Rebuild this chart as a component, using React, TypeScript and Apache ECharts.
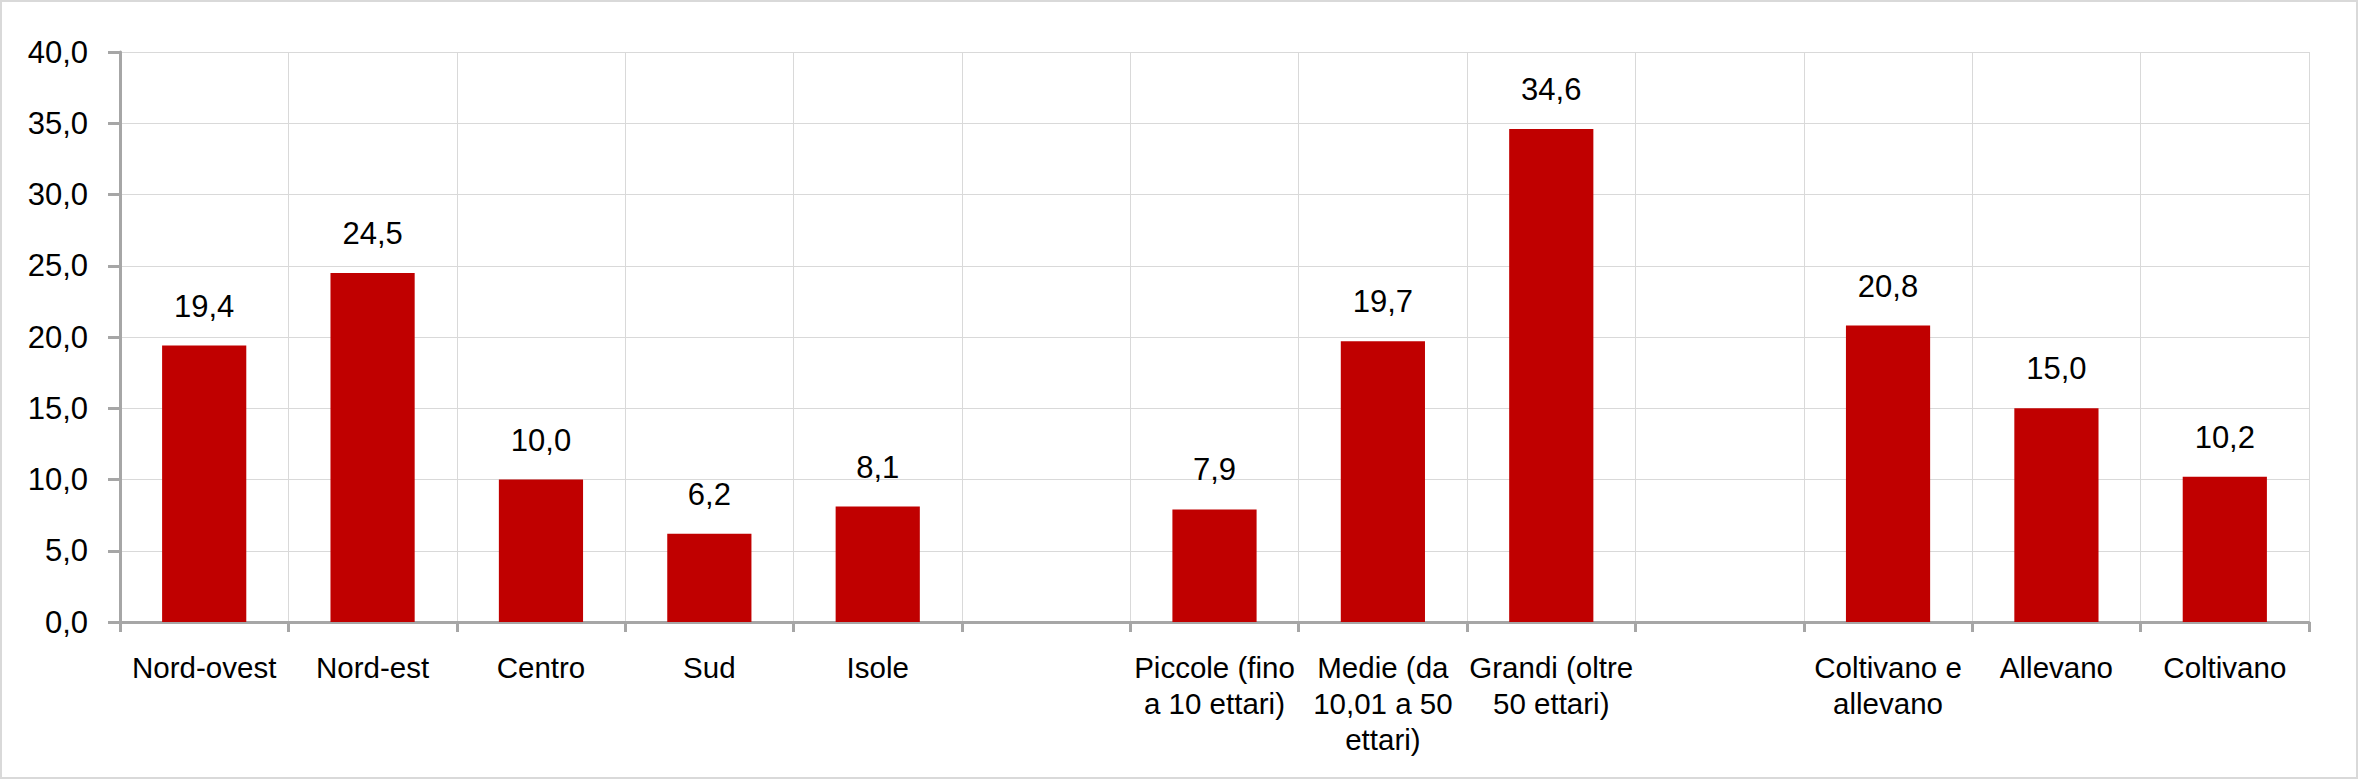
import React, { useEffect, useRef } from "react";
import * as echarts from "echarts";

const categories = [
  "Nord-ovest",
  "Nord-est",
  "Centro",
  "Sud",
  "Isole",
  " ",
  "Piccole (fino\na 10 ettari)",
  "Medie (da\n10,01 a 50\nettari)",
  "Grandi (oltre\n50 ettari)",
  "  ",
  "Coltivano e\nallevano",
  "Allevano",
  "Coltivano",
];

const values: (number | null)[] = [19.4, 24.5, 10.0, 6.2, 8.1, null, 7.9, 19.7, 34.6, null, 20.8, 15.0, 10.2];

const yMin = 0;
const yMax = 40;
const yInterval = 5;

const FONT = '"Liberation Sans Narrow", "Arial Narrow", "Liberation Sans", Arial, sans-serif';
const fmt = (v: number) => v.toFixed(1).replace(".", ",");

export default function App() {
  const ref = useRef<HTMLDivElement>(null);
  useEffect(() => {
    if (!ref.current) return;
    const chart = echarts.init(ref.current, undefined, { renderer: "svg" });
    chart.setOption({
      animation: false,
      backgroundColor: "#ffffff",
      textStyle: { fontFamily: FONT },
      graphic: [
        {
          type: "rect",
          shape: { x: 1, y: 1, width: 2356, height: 777 },
          style: { fill: "none", stroke: "#d9d9d9", lineWidth: 2 },
          silent: true,
        },
      ],
      grid: { left: 120, right: 50, top: 52, bottom: 158 },
      xAxis: {
        type: "category",
        data: categories,
        axisLine: { show: true, lineStyle: { color: "#a6a6a6", width: 3 } },
        axisTick: { show: true, length: 10, lineStyle: { color: "#a6a6a6", width: 3 } },
        splitLine: { show: true, lineStyle: { color: "#d9d9d9", width: 1 } },
        axisLabel: {
          color: "#000",
          fontFamily: FONT,
          fontSize: 29.5,
          lineHeight: 36,
          margin: 27,
          interval: 0,
        },
      },
      yAxis: {
        type: "value",
        min: yMin,
        max: yMax,
        interval: yInterval,
        axisLine: { show: true, lineStyle: { color: "#a6a6a6", width: 3 } },
        axisTick: { show: true, length: 12, lineStyle: { color: "#a6a6a6", width: 3 } },
        splitLine: { show: true, lineStyle: { color: "#d9d9d9", width: 1 } },
        axisLabel: {
          color: "#000",
          fontFamily: FONT,
          fontSize: 31,
          margin: 32,
          formatter: (v: number) => fmt(v),
        },
      },
      series: [
        {
          type: "bar",
          data: values,
          barWidth: "50%",
          itemStyle: { color: "#c00000" },
          label: {
            show: true,
            position: "top",
            distance: 24,
            color: "#000",
            fontFamily: FONT,
            fontSize: 31,
            formatter: (p: any) => (p.value == null ? "" : fmt(p.value)),
          },
        },
      ],
    });
    return () => chart.dispose();
  }, []);
  return (
    <div
      ref={ref}
      style={{ position: "fixed", left: 0, top: 0, width: 2359, height: 780 }}
    />
  );
}
